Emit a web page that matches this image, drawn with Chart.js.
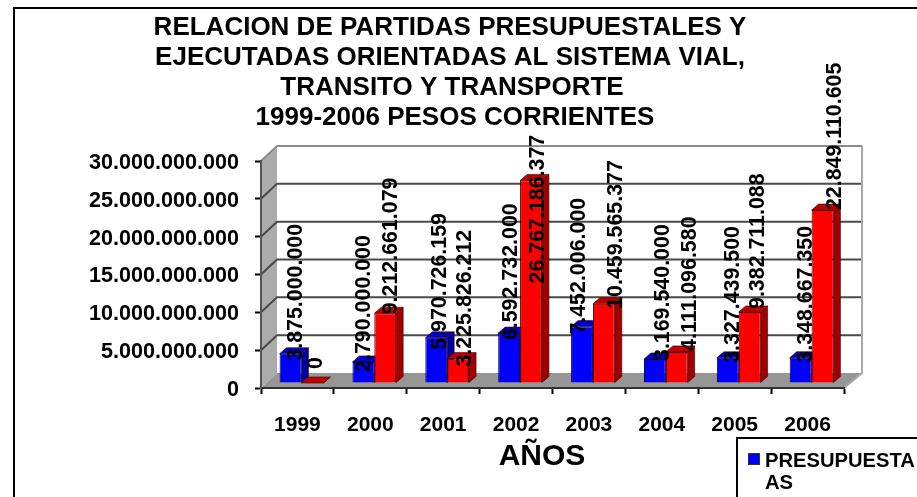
<!DOCTYPE html>
<html><head><meta charset="utf-8">
<style>html,body{margin:0;padding:0;background:#fff}#w{position:relative;width:917px;height:497px}</style>
<script src="https://cdn.jsdelivr.net/npm/chart.js@4/dist/chart.umd.min.js"></script>
</head><body><div id="w"><canvas id="c" width="917" height="497"></canvas></div>
<script>
const categories = ['1999','2000','2001','2002','2003','2004','2005','2006'];
const presupuestadas = [3875000000,2790000000,5970726159,6592732000,7452006000,3169540000,3327439500,3348667350];
const ejecutadas = [0,9212661079,3225826212,26767186377,10459565377,4111096580,9382711088,22849110605];
const titleLines = ['RELACION DE PARTIDAS PRESUPUESTALES Y','EJECUTADAS ORIENTADAS AL SISTEMA VIAL,','TRANSITO Y TRANSPORTE','1999-2006 PESOS CORRIENTES'];
const axisTitle = 'AÑOS';
const legendLines = ['PRESUPUESTA','AS'];

const FONT = '"Liberation Sans", Arial, sans-serif';
const titleCenters = [450,450,452,455];
const labelNudgeY = [[7,10,12,7,8,2,5,5],[-14,1,8,103,5,-1,-3,0]];
const labelNudgeX = [[6,1,3.5,2,-3,8.5,5,5],[3.5,5.5,7,7.5,12,13.5,8.5,13]];
const fmt = v => String(Math.round(v)).replace(/\B(?=(\d{3})+(?!\d))/g,'.');
const WALL = {dx:16, dy:-15}, BAR = {dx:4, dy:-5}, DEPTH = {dx:7, dy:-6};
const sideCols = ['#0000A0','#A00000'], topCols = ['#0000C8','#C00000'];

function poly(ctx, pts, fill){ ctx.beginPath(); pts.forEach((p,i)=> i?ctx.lineTo(p[0],p[1]):ctx.moveTo(p[0],p[1])); ctx.closePath(); if(fill){ctx.fillStyle=fill;ctx.fill();} }

const scene = {
  id:'scene',
  beforeDraw(chart){
    const {ctx, chartArea:a, scales:{y}} = chart;
    ctx.save();
    ctx.strokeStyle='#000'; ctx.lineWidth=2;
    ctx.beginPath(); ctx.moveTo(14,500); ctx.lineTo(14,8); ctx.lineTo(920,8); ctx.stroke();
    poly(ctx,[[a.left,a.bottom],[a.left,a.top],[a.left+WALL.dx,a.top+WALL.dy],[a.left+WALL.dx,a.bottom+WALL.dy]],'#ABABAB');
    poly(ctx,[[a.left,a.bottom],[a.right,a.bottom],[a.right+WALL.dx+2,a.bottom+WALL.dy],[a.left+WALL.dx,a.bottom+WALL.dy]],'#969696');
    y.ticks.forEach(t=>{
      const py=y.getPixelForValue(t.value);
      if(t.value===0) return;
      ctx.strokeStyle = t.value===y.max ? '#8c8c8c' : '#4a4a4a';
      ctx.lineWidth=2;
      ctx.beginPath(); ctx.moveTo(a.left,py); ctx.lineTo(a.left+WALL.dx,py+WALL.dy); ctx.lineTo(a.right+WALL.dx+2,py+WALL.dy); ctx.stroke();
    });
    ctx.strokeStyle='#a8a8a8'; ctx.lineWidth=2;
    ctx.beginPath(); ctx.moveTo(a.right+WALL.dx+2,a.top+WALL.dy); ctx.lineTo(a.right+WALL.dx+2,a.bottom+WALL.dy); ctx.lineTo(a.right,a.bottom); ctx.stroke();
    ctx.fillStyle='#000'; ctx.font='bold 26px '+FONT; ctx.textAlign='center'; ctx.textBaseline='middle';
    titleLines.forEach((s,i)=>ctx.fillText(s,titleCenters[i],28+i*30));
    ctx.restore();
  },
  beforeDatasetsDraw(chart){
    const ctx=chart.ctx;
    ctx.save(); ctx.translate(BAR.dx,BAR.dy);
    chart.data.datasets.forEach((ds,i)=>{
      chart.getDatasetMeta(i).data.forEach(b=>{
        const l=b.x-b.width/2, r=b.x+b.width/2, t=b.y, bt=b.base;
        const D=DEPTH;
        poly(ctx,[[r,t],[r+D.dx,t+D.dy],[r+D.dx,bt+D.dy],[r,bt]],sideCols[i]);
        ctx.strokeStyle='rgba(60,0,0,.6)'; ctx.lineWidth=1; ctx.stroke();
        poly(ctx,[[l,t],[r,t],[r+D.dx,t+D.dy],[l+D.dx,t+D.dy]],topCols[i]);
        ctx.stroke();
      });
    });
  },
  afterDatasetsDraw(chart){
    const ctx=chart.ctx;
    ctx.restore();
    ctx.save();
    ctx.fillStyle='#000'; ctx.font='bold 21.4px '+FONT; ctx.textAlign='left'; ctx.textBaseline='middle';
    chart.data.datasets.forEach((ds,i)=>{
      chart.getDatasetMeta(i).data.forEach((b,j)=>{
        ctx.save();
        ctx.translate(b.x+BAR.dx+labelNudgeX[i][j], b.y+BAR.dy+labelNudgeY[i][j]);
        ctx.rotate(-Math.PI/2);
        ctx.fillText(fmt(ds.data[j]),0,0);
        ctx.restore();
      });
    });
    ctx.restore();
  },
  afterDraw(chart){
    const ctx=chart.ctx;
    ctx.save();
    ctx.fillStyle='#000';
    ctx.font='bold 30px '+FONT; ctx.textAlign='center'; ctx.textBaseline='middle';
    ctx.fillText(axisTitle,542,457);
    ctx.strokeStyle='#000'; ctx.lineWidth=2;
    ctx.beginPath(); ctx.moveTo(737,500); ctx.lineTo(737,438); ctx.lineTo(920,438); ctx.stroke();
    ctx.fillStyle='#0000FF'; ctx.fillRect(749,454,10,10);
    ctx.strokeStyle='#333'; ctx.lineWidth=1; ctx.strokeRect(748.5,453.5,11,11);
    ctx.fillStyle='#000'; ctx.font='bold 20.2px '+FONT; ctx.textAlign='left';
    legendLines.forEach((s,i)=>ctx.fillText(s,765,461+i*22));
    ctx.restore();
  }
};

new Chart(document.getElementById('c'),{
  type:'bar',
  plugins:[scene],
  data:{labels:categories,datasets:[
    {label:'PRESUPUESTADAS',data:presupuestadas,backgroundColor:'#0000FF',borderColor:'#00004a',borderWidth:1,categoryPercentage:0.6,barPercentage:1},
    {label:'EJECUTADAS',data:ejecutadas,backgroundColor:'#FF0000',borderColor:'#4a0000',borderWidth:1,categoryPercentage:0.6,barPercentage:1}
  ]},
  options:{
    responsive:false,animation:false,
    layout:{padding:{left:44,right:73,top:161,bottom:0}},
    plugins:{legend:{display:false},tooltip:{enabled:false},title:{display:false}},
    scales:{
      x:{
        afterFit(s){s.height=109;},
        grid:{offset:true,drawOnChartArea:false,tickLength:6,tickColor:'#000',tickWidth:2},
        border:{display:true,color:'#333',width:2},
        ticks:{color:'#000',font:{family:FONT,size:21,weight:'bold'},padding:19,maxRotation:0,autoSkip:false}
      },
      y:{
        min:0,max:30000000000,
        afterFit(s){s.width=217;},
        grid:{drawOnChartArea:false,tickLength:6,tickColor:'#000',tickWidth:2},
        border:{display:true,color:'#555',width:2},
        ticks:{stepSize:5000000000,color:'#000',padding:16,labelOffset:2,font:{family:FONT,size:21.6,weight:'bold'},callback:v=>fmt(v)}
      }
    }
  }
});
</script></body></html>
